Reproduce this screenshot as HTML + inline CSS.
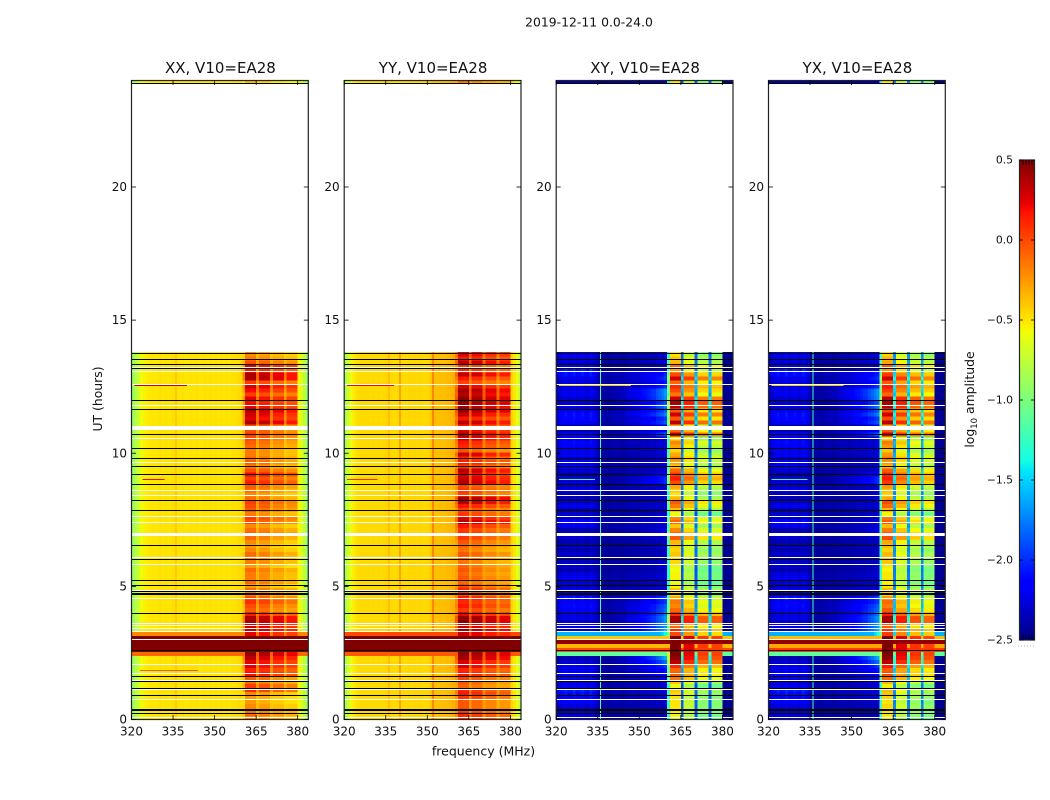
<!DOCTYPE html>
<html>
<head>
<meta charset="utf-8">
<title>2019-12-11 0.0-24.0</title>
<style>
html,body{margin:0;padding:0;background:#fff;width:1050px;height:800px;overflow:hidden}
svg{display:block}
text{font-family:"DejaVu Sans","Liberation Sans",sans-serif;fill:#111}
</style>
</head>
<body>
<svg id="figure" xmlns="http://www.w3.org/2000/svg" width="1050" height="800" viewBox="0 0 1050 800">
  <defs>
    <linearGradient id="jetGradient" x1="0" y1="1" x2="0" y2="0"></linearGradient>
  </defs>
  <text x="589" y="26.5" font-size="12.4" text-anchor="middle">2019-12-11 0.0-24.0</text>
  <text x="483.5" y="755.5" font-size="12.5" text-anchor="middle">frequency (MHz)</text>
  <text x="0" y="0" font-size="12.4" text-anchor="middle" transform="translate(102,399) rotate(-90)">UT (hours)</text>
  <text x="0" y="0" font-size="12.4" text-anchor="middle" transform="translate(974,399.5) rotate(-90)">log<tspan dy="3" font-size="8.5">10</tspan><tspan dy="-3"> amplitude</tspan></text>
  <g id="panels"></g>
  <g id="colorbar"></g>
</svg>
<script>
// ---- Axis and scale labels ----
const xTicks = [320, 335, 350, 365, 380];
const yTicks = [0, 5, 10, 15, 20];
const colorTicks = [0.5, 0, -0.5, -1, -1.5, -2, -2.5];
const panelNames = ['XX', 'YY', 'XY', 'YX'];
const panelTitles = ['XX, V10=EA28', 'YY, V10=EA28', 'XY, V10=EA28', 'YX, V10=EA28'];

// ---- Hours where integrations are flagged ----
const blackLineHours = [23.88,13.75,13.53,13.34,13.19,11.99,11.65,10.69,10.19,9.81,9.51,9.21,8.83,8.23,7.86,6.54,6.02,5.23,5.04,4.79,4.74,4.69,3.99,2.60,1.62,1.43,1.17,0.91,0.39,0.32,0.24,0.21];
const whiteLineHours = [13.84,13.22,13.08,12.59,11.8,10.54,9.66,8.6,8.42,7.62,7.4,6.09,5.84,4.85,4.55,3.61,3.52,3.42,3.31,3.01,2.07,1.73,1.47,1.13,0.76,0.09];
const whiteBandStart = [10.87, 6.9];
const whiteBandEnd = [11.02, 7.0];

// ---- Per-channel log10 amplitude offsets, one entry per MHz from 320 (64 channels) ----
const chanXX = [-.9,-.8,-.7,-.6,-.55,-.52,-.51,-.5,-.51,-.5,-.49,-.5,-.49,-.5,-.49,-.48,-.49,-.5,-.49,-.5,-.5,-.49,-.5,-.49,-.5,-.5,-.49,-.5,-.48,-.5,-.49,-.5,-.49,-.5,-.49,-.5,-.49,-.48,-.47,-.46,-.4,-.05,-.05,-.07,-.05,-.3,-.12,-.12,-.12,-.12,-.33,-.22,-.22,-.22,-.22,-.38,-.28,-.28,-.28,-.28,-.55,-.65,-.78,-.9];
const chanYY = [-.85,-.7,-.6,-.52,-.48,-.47,-.46,-.47,-.46,-.47,-.46,-.47,-.46,-.47,-.46,-.45,-.46,-.46,-.47,-.46,-.46,-.47,-.46,-.45,-.46,-.45,-.46,-.45,-.46,-.46,-.45,-.4,-.38,-.38,-.37,-.38,-.37,-.36,-.35,-.33,-.28,-.03,-.03,-.05,-.03,-.25,-.1,-.1,-.1,-.1,-.27,-.2,-.2,-.2,-.2,-.32,-.25,-.25,-.25,-.25,-.45,-.5,-.6,-.75];
const chanXY = [-2.45,-2.45,-2.45,-2.45,-2.45,-2.45,-2.45,-2.45,-2.45,-2.45,-2.45,-2.45,-2.45,-2.45,-2.45,-2.45,-2.45,-2.45,-2.45,-2.45,-2.45,-2.45,-2.45,-2.45,-2.45,-2.45,-2.45,-2.45,-2.45,-2.45,-2.45,-2.45,-2.45,-2.45,-2.45,-2.45,-2.45,-2.45,-2.45,-2.45,-1.0,0,0,0,0,-1.6,-.25,-.25,-.25,-.25,-1.6,-.45,-.45,-.45,-.45,-1.6,-.47,-.47,-.47,-.47,-2.45,-2.45,-2.45,-2.45];
const chanYX = [-2.45,-2.45,-2.45,-2.45,-2.45,-2.45,-2.45,-2.45,-2.45,-2.45,-2.45,-2.45,-2.45,-2.45,-2.45,-2.45,-2.45,-2.45,-2.45,-2.45,-2.45,-2.45,-2.45,-2.45,-2.45,-2.45,-2.45,-2.45,-2.45,-2.45,-2.45,-2.45,-2.45,-2.45,-2.45,-2.45,-2.45,-2.45,-2.45,-2.45,-1.0,0,0,0,0,-1.5,-.25,-.25,-.25,-.25,-1.5,-.42,-.42,-.42,-.42,-1.5,-.48,-.48,-.48,-.48,-2.45,-2.45,-2.45,-2.45];

// ---- Per-channel sensitivity of each time-varying component ----
const bandGain = [0,0,0,0,0,0,0,0,0,0,0,0,0,0,0,0,0,0,0,0,0,0,0,0,0,0,0,0,0,0,0,0,0,0,0,0,0,0,0,0,.5,1,1,1,1,.5,1,1,1,1,.5,1,1,1,1,.5,1,1,1,1,0,0,0,0];
const lowGain = [.45,.6,.75,.85,.7,.75,.9,.7,.75,.85,.75,.6,.9,.75,.5,.1,.15,.2,.1,.15,.2,.25,.2,.1,.15,.2,.2,.25,.2,.15,.2,.25,.2,.2,.25,.2,.25,.2,.2,.25,0,0,0,0,0,0,0,0,0,0,0,0,0,0,0,0,0,0,0,0,0,0,0,0];
const nearGain = [0,0,0,0,0,0,0,0,0,0,0,0,0,0,0,0,0,0,0,0,0,0,.05,.1,.1,.15,.2,.2,.25,.3,.35,.4,.45,.5,.55,.6,.7,.8,.9,1,0,0,0,0,0,0,0,0,0,0,0,0,0,0,0,0,0,0,0,0,0,0,0,0];

// ---- Per-integration values (one every 0.15 h; last entry is the strip at 24 h) ----
const bandXX = [-.1,-.05,-.1,-.15,-.2,-.2,-.15,.15,.1,-.05,0,.25,.2,.3,.3,.4,.5,.5,.5,.5,.5,.3,.4,.35,.45,.45,.2,0,.05,.15,.05,-.1,-.05,-.2,-.05,-.1,-.1,-.05,-.2,-.1,-.1,-.05,-.15,-.2,-.15,-.05,0,-.05,-.15,.05,.1,-.1,0,.05,.1,-.05,-.15,-.05,0,.2,.1,.25,.05,-.1,0,-.05,-.1,-.1,-.05,0,.05,.1,.05,.05,.45,.3,.35,.45,.3,.25,.3,.1,.25,.35,.1,.45,.45,.2,.3,.05,-.1,-.15,-.3];
const bandYY = [.15,.15,.05,0,0,.1,.2,.15,-.05,0,.05,.2,.15,.3,.3,.45,.5,.5,.5,.5,.5,.35,.45,.35,.5,.5,.25,.1,.2,.15,.2,.05,.15,.05,-.05,0,-.05,0,-.05,-.1,-.05,0,-.1,-.05,0,.1,.15,.1,.2,.4,.3,.1,.05,.2,.4,.45,.05,.1,.05,.4,.35,.3,.4,.1,.2,.15,.35,0,.15,.2,.35,.4,.3,.2,.4,.2,.35,.5,.45,.5,.5,.4,.45,.3,.05,.2,.4,.15,.1,.4,.2,.3,-.1];
const bandXY = [-.6,-.55,-.5,-.5,-.5,-.5,-.45,-.4,-.6,-.4,-.15,-.05,-.1,.1,.35,.45,.5,.5,.5,.5,.5,0,.1,-.1,.4,.4,.1,-.1,-.2,-.15,-.3,-.5,-.4,-.55,-.6,-.55,-.55,-.6,-.55,-.45,-.45,-.4,-.45,-.4,-.35,-.05,-.1,-.2,-.4,-.1,-.2,-.6,-.4,-.15,-.05,-.35,-.5,-.4,-.3,0,.15,.05,-.1,-.4,-.3,-.2,-.3,-.45,-.3,-.2,-.5,.3,-.1,-.3,.35,-.05,.3,-.05,.35,.4,.3,-.15,0,.1,-.1,.3,0,-.3,-.1,-.35,-.4,-.5,-.5];
const bandYX = [-.55,-.5,-.5,-.45,-.5,-.45,-.4,-.35,-.55,-.35,-.1,0,-.05,.15,.35,.45,.5,.5,.5,.5,.5,.05,.1,-.05,.4,.4,.15,-.05,-.15,-.1,-.25,-.45,-.35,-.5,-.55,-.5,-.5,-.55,-.5,-.4,-.4,-.35,-.45,-.35,-.3,0,-.05,-.15,-.35,-.05,-.15,-.55,-.35,-.1,0,-.3,-.45,-.35,-.25,.05,.15,.1,-.05,-.35,-.25,-.15,-.25,-.4,-.25,-.15,-.45,.3,-.05,-.25,.35,0,.3,0,.35,.4,.35,-.1,.05,.15,-.05,.3,.05,-.25,-.05,-.3,-.35,-.45,-.5];
const lowCross = [.25,.25,.2,.25,.35,.4,.45,.5,.3,.25,.3,.35,.3,.3,.2,.1,.2,0,0,0,0,.3,.2,.3,.2,.25,.3,.35,.4,.35,.45,.2,.3,.2,.25,.3,.25,.1,.2,.15,.15,.2,.1,.15,.1,.2,.15,.1,.3,.4,.2,.2,.1,.3,.2,.1,.1,.3,.2,.2,.2,.1,.2,.35,.3,.25,.3,.35,.35,.4,.3,.35,.1,.1,.35,.4,.45,.3,.3,.2,.2,.3,.3,.25,.25,.3,.45,.5,.4,.2,.35,.3,.1];
const nearCross = [.05,.05,.05,.05,.05,.1,.1,.1,.1,.15,.2,.2,.3,.4,.6,.8,1,1,1,1,1,1,.8,.7,.7,.7,.6,.55,.5,.4,.4,.1,.1,.1,.1,.1,.1,.1,.1,.1,.1,.1,.1,.1,.1,.1,.1,.2,.1,.1,.1,.1,.1,.1,.1,.1,.1,.1,.1,.4,.4,.3,.1,.1,.1,.1,.1,.1,.1,.1,.1,.5,.3,.2,.5,.4,.6,.5,.6,.5,.7,.7,.7,.4,.3,.4,.3,.2,.1,.15,.1,.1,.1];

// ---- Strong broadband interference rows: row index and floor value per panel ----
const hotRows = [16, 17, 18, 19, 20, 21];
const hotXX = [-.1, .5, .5, .5, .5, -.2];
const hotYY = [-.05, .5, .5, .5, .5, 0];
const hotXY = [-1.1, 0, -.35, .45, -.4, -1.6];
const hotYX = [-1.1, .05, -.3, .45, -.35, -1.6];

// ---- Narrow persistent RFI channels: panel, frequency (MHz), value ----
const narrowPanel = ['XX','YY','YY','YY','XY','YX'];
const narrowFreq = [335.9,336,339.9,351.8,335.8,335.8];
const narrowValue = [-.33,-.3,-.12,0,-1.2,-1.2];
const narrowHourStart = [0, 3.3];
const narrowHourEnd = [2.4, 13.8];

// ---- Short narrow RFI streaks ----
const streakPanel = ['XX','XX','XX','YY','YY','XY','XY','YX','YX'];
const streakHour = [12.55,9.02,1.85,12.55,9.02,12.55,9.02,12.55,9.02];
const streakStart = [321,324,323,321,321,321,321,321,321];
const streakEnd = [340,332,344,338,332,347,334,347,334];
const streakValue = [.3,.2,-.05,.2,.1,-.4,-1.2,-.4,-1.2];

const panelData = {
  XX: {chan: chanXX, band: bandXX, hot: hotXX, low: null, near: null},
  YY: {chan: chanYY, band: bandYY, hot: hotYY, low: null, near: null},
  XY: {chan: chanXY, band: bandXY, hot: hotXY, low: lowCross, near: nearCross},
  YX: {chan: chanYX, band: bandYX, hot: hotYX, low: lowCross, near: nearCross}
};

// ---- Layout ----
const SVGNS = 'http://www.w3.org/2000/svg';
const panelLeft = [131.5, 344.2, 556.2, 768.5];
const panelWidth = 176.8;
const plotTop = 80.5;
const plotBottom = 719.5;
const pxPerMHz = 2.77;
const pxPerHour = (plotBottom - plotTop) / 24;
const rowStep = 0.15;
const topRowHour = 23.9;
const vMin = -2.5;
const vMax = 0.5;

function yScale(h) { return plotBottom - h * pxPerHour; }
function xScale(left, f) { return Math.min(left + (f - 320) * pxPerMHz, left + panelWidth); }

function interp(xs, ys, t) {
  for (let i = 1; i < xs.length; i++) {
    if (t <= xs[i]) return ys[i - 1] + (ys[i] - ys[i - 1]) * (t - xs[i - 1]) / (xs[i] - xs[i - 1]);
  }
  return ys[ys.length - 1];
}
function jet(t) {
  const r = interp([0, .35, .66, .89, 1], [0, 0, 1, 1, .5], t);
  const g = interp([0, .125, .375, .64, .91, 1], [0, 0, 1, 1, 0, 0], t);
  const b = interp([0, .11, .34, .65, 1], [.5, 1, 1, 0, 0], t);
  return 'rgb(' + Math.round(r * 255) + ',' + Math.round(g * 255) + ',' + Math.round(b * 255) + ')';
}
function valueColor(v) {
  const t = Math.max(0, Math.min(1, (v - vMin) / (vMax - vMin)));
  return jet(t);
}
function cellValue(d, row, ch) {
  let v = d.chan[ch] + bandGain[ch] * d.band[row];
  if (d.low) v += lowGain[ch] * d.low[row];
  if (d.near) v += nearGain[ch] * d.near[row];
  const k = hotRows.indexOf(row);
  if (k >= 0) v = Math.max(v, d.hot[k]);
  return v;
}
function mk(parent, tag, attrs) {
  const el = document.createElementNS(SVGNS, tag);
  for (const key in attrs) el.setAttribute(key, attrs[key]);
  parent.appendChild(el);
  return el;
}
function snap(y) { return Math.round(y - 0.5); }

const panelsGroup = document.getElementById('panels');

panelNames.forEach(function (name, p) {
  const left = panelLeft[p];
  const right = left + panelWidth;
  const d = panelData[name];
  const g = mk(panelsGroup, 'g', {});
  
  

  // heatmap rows, merging neighbouring cells of the same colour
  const heat = mk(g, 'g', {'shape-rendering': 'crispEdges'});
  
  
  for (let row = 0; row < d.band.length; row++) {
    const isTop = row === d.band.length - 1;
    const h0 = isTop ? topRowHour : row * rowStep;
    const h1 = isTop ? 24 : (row + 1) * rowStep;
    const yTop = yScale(h1);
    const yBot = yScale(h0);
    let start = 0;
    let color = valueColor(cellValue(d, row, 0));
    for (let ch = 1; ch <= d.chan.length; ch++) {
      const c = ch < d.chan.length ? valueColor(cellValue(d, row, ch)) : null;
      if (c !== color) {
        const x0 = xScale(left, 320 + start);
        const x1 = xScale(left, 320 + ch);
        const cell = mk(heat, 'rect', {x: x0, y: yTop, width: x1 - x0 + 0.4, height: yBot - yTop + 0.4, fill: color});
        
        
        start = ch;
        color = c;
      }
    }
  }

  // narrow persistent RFI channels
  const marks = mk(g, 'g', {'shape-rendering': 'crispEdges'});
  
  
  narrowPanel.forEach(function (np, i) {
    if (np !== name) return;
    narrowHourStart.forEach(function (hs, j) {
      const y0 = yScale(narrowHourEnd[j]);
      const nl = mk(marks, 'rect', {x: xScale(left, narrowFreq[i]), y: y0, width: 1, height: yScale(hs) - y0, fill: valueColor(narrowValue[i])});
      
      
    });
  });

  // flagged integrations
  whiteBandStart.forEach(function (h, i) {
    const band = mk(marks, 'rect', {x: left, y: yScale(whiteBandEnd[i]), width: panelWidth, height: (whiteBandEnd[i] - h) * pxPerHour, fill: '#fff'});
    
    
  });
  whiteLineHours.forEach(function (h) {
    const line = mk(marks, 'rect', {x: left, y: snap(yScale(h)), width: panelWidth, height: 1, fill: '#fff'});
    
    
  });
  streakPanel.forEach(function (sp, i) {
    if (sp !== name) return;
    const x0 = xScale(left, streakStart[i]);
    const st = mk(marks, 'rect', {x: x0, y: snap(yScale(streakHour[i])), width: xScale(left, streakEnd[i]) - x0, height: 1, fill: valueColor(streakValue[i])});
    
    
  });
  blackLineHours.forEach(function (h) {
    const line = mk(marks, 'rect', {x: left, y: snap(yScale(h)), width: panelWidth, height: 1, fill: '#000'});
    
    
  });

  // frame
  const frame = mk(g, 'rect', {x: left, y: plotTop, width: panelWidth, height: plotBottom - plotTop, fill: 'none', stroke: '#222', 'stroke-width': 1.2});
  
  

  // x ticks
  xTicks.forEach(function (f) {
    const x = xScale(left, f);
    const tb = mk(g, 'line', {x1: x, x2: x, y1: plotBottom, y2: plotBottom - 4.5, stroke: '#000', 'stroke-width': 0.8});
    
    
    const tt = mk(g, 'line', {x1: x, x2: x, y1: plotTop, y2: plotTop + 4.5, stroke: '#000', 'stroke-width': 0.8});
    
    
    const lab = mk(g, 'text', {x: x, y: 735.5, 'font-size': 12, 'text-anchor': 'middle'});
    
    
    lab.textContent = String(f);
  });

  // y ticks
  yTicks.forEach(function (h) {
    const y = yScale(h);
    const tl = mk(g, 'line', {x1: left, x2: left + 4.5, y1: y, y2: y, stroke: '#000', 'stroke-width': 0.8});
    
    
    const tr = mk(g, 'line', {x1: right, x2: right - 4.5, y1: y, y2: y, stroke: '#000', 'stroke-width': 0.8});
    
    
    const lab = mk(g, 'text', {x: left - 4.5, y: y + 4, 'font-size': 12, 'text-anchor': 'end'});
    
    
    lab.textContent = String(h);
  });

  // title
  const title = mk(g, 'text', {x: left + panelWidth / 2 + 0.5, y: 73, 'font-size': 15, 'text-anchor': 'middle'});
  
  
  title.textContent = panelTitles[p];
});

// ---- Colorbar ----
const gradient = document.getElementById('jetGradient');
const gradientStops = [0, .11, .125, .34, .35, .375, .64, .65, .66, .89, .91, 1];
gradientStops.forEach(function (t) {
  mk(gradient, 'stop', {offset: t, 'stop-color': jet(t)});
});
const cbGroup = document.getElementById('colorbar');
const cbLeft = 1019.5;
const cbRight = 1034.5;
const cbTop = 160;
const cbBottom = 640;
function cbY(v) { return cbBottom - (v - vMin) / (vMax - vMin) * (cbBottom - cbTop); }

const cbFill = mk(cbGroup, 'rect', {x: cbLeft, y: cbTop, width: cbRight - cbLeft, height: cbBottom - cbTop, fill: 'url(#jetGradient)', stroke: '#222', 'stroke-width': 1.2});



colorTicks.forEach(function (v) {
  const y = cbY(v);
  const a = mk(cbGroup, 'line', {x1: cbLeft, x2: cbLeft + 3.5, y1: y, y2: y, stroke: '#000', 'stroke-width': 0.8});
  
  
  const b = mk(cbGroup, 'line', {x1: cbRight, x2: cbRight - 3.5, y1: y, y2: y, stroke: '#000', 'stroke-width': 0.8});
  
  
  const lab = mk(cbGroup, 'text', {x: 1013, y: y + 3.5, 'font-size': 10.8, 'text-anchor': 'end'});
  
  
  lab.textContent = v.toFixed(1).replace('-', '\u2212');
});

[1023, 1026, 1029, 1032].forEach(function (x) {
  const t = mk(cbGroup, 'line', {x1: x, x2: x, y1: cbTop, y2: cbTop + 5, stroke: '#000', 'stroke-width': 0.7});
  
  
  const u = mk(cbGroup, 'line', {x1: x, x2: x, y1: cbBottom, y2: cbBottom - 5, stroke: '#000', 'stroke-width': 0.7});
  
  
});

const cbDots = mk(cbGroup, 'line', {x1: 1018, x2: 1035, y1: 646, y2: 646, stroke: '#999', 'stroke-width': 0.8, 'stroke-dasharray': '1 2'});


</script>
</body>
</html>
